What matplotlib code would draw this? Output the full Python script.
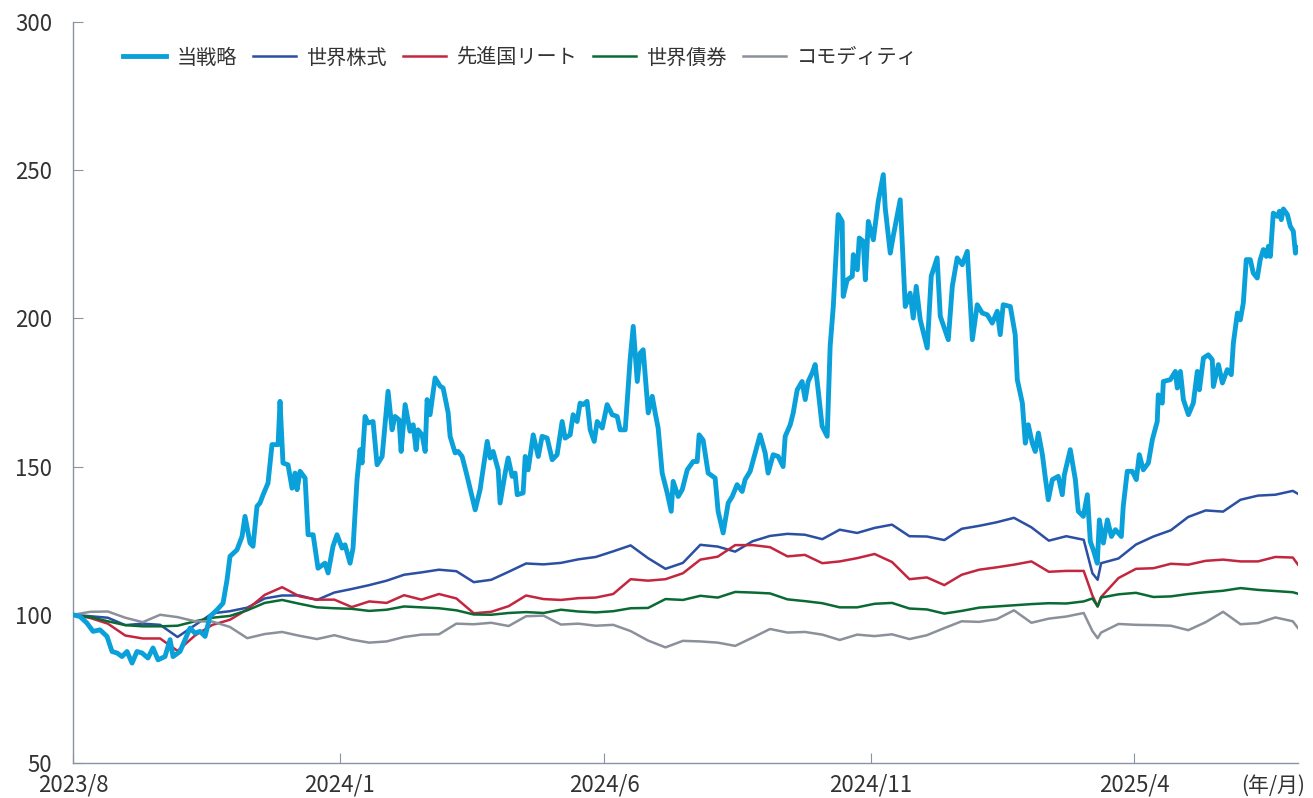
import numpy as np
import pandas as pd
import matplotlib
matplotlib.use("Agg")
import matplotlib.pyplot as plt

plt.rcParams['font.family'] = ['Noto Sans CJK JP', 'DejaVu Sans']

start = pd.Timestamp('2023-08-01')
end_day = 703

# 当戦略 (days since 2023/8/1, index value)
strat_days = [0, 4, 8, 11.5, 15.5, 19.5, 22.4, 25.3, 28.1, 31, 33.9, 36.7, 39.6, 43, 45.9, 48.8,
              52.8, 55.7, 57.4, 61.4, 64.3, 67.2, 70, 72.9, 75.8, 78.6, 82.7, 86.1, 88.4, 90.1,
              94.1, 97, 98.7, 101.6, 103.3, 105.6, 107.3, 109.1, 111.9, 114.2, 117.7, 118.8,
              120.5, 123.4, 125.7, 127.4, 128.6, 130.3, 133.2, 134.9, 137.8, 140.6, 144.6, 146.4,
              149.2, 151.5, 154.4, 156.1, 159, 160.7, 163, 164.7, 165.9, 167.6, 169.3, 172.2,
              174.5, 177.4, 180.8, 183.1, 184.8, 187.1, 188.3, 190.6, 193.4, 195.2, 196.9, 198,
              200.3, 202.1, 203.2, 204.9, 206.1, 207.8, 210.7, 212.4, 215.3, 216.4, 219.3, 221,
              223.3, 226.2, 229, 230.8, 233.6, 237.7, 239.4, 241.1, 244, 245.1, 248, 249.7, 252,
              253.7, 254.9, 258.3, 259.5, 261.2, 264.1, 267, 269.2, 272.1, 275, 277.8, 280.7,
              282.4, 285.3, 287, 289.3, 291, 292.8, 295, 296.8, 299.1, 300.8, 303.7, 306.5, 309.4,
              312.3, 314, 316.9, 319.7, 321.5, 323.8, 325.5, 327.2, 330.1, 332.4, 334.1, 335.8,
              338.1, 341, 343.3, 344.4, 347.3, 349.6, 352.5, 355.9, 358.2, 359.3, 361.6, 364.5,
              368.5, 370.2, 373.1, 376, 378.3, 381.1, 384, 385.7, 388.6, 391.5, 394.3, 397.2,
              398.9, 401.8, 404.7, 407.5, 408.7, 411.6, 413.3, 415.6, 418.4, 420.2, 421.9, 424.2,
              425.9, 427.6, 429.9, 432.8, 434.5, 436.3, 439.1, 441.4, 442, 444.3, 447.2, 447.8,
              450.1, 451.2, 453.5, 454.7, 456.4, 459.3, 462.1, 465, 466.1, 469, 470.7, 474.7,
              477.6, 480.4, 482.2, 483.9, 486.2, 490.2, 492.5, 495.9, 497.7, 502.3, 504.6, 507.4,
              510.3, 513.2, 516.1, 518.9, 521.8, 524.7, 527.5, 530.4, 532.1, 533.8, 537.9, 540.7,
              541.9, 544.8, 546.5, 548.2, 550.5, 552.2, 554, 556.3, 558, 559.7, 562, 565.4, 567.7,
              568.9, 572.3, 575.2, 576.9, 579.8, 582.1, 583.8, 585.5, 587.8, 589, 591.3, 593.6,
              595.9, 598.2, 601.6, 602.7, 605, 607.9, 610.2, 611.9, 614.2, 617.1, 619.4, 622.2,
              622.8, 625.1, 625.7, 629.7, 632.6, 633.7, 635.5, 637.2, 640.1, 642.9, 645.2, 646.4,
              648.7, 651.5, 653.8, 654.4, 657.3, 659.6, 662.4, 664.7, 665.9, 668.2, 669.9, 671.6,
              673.3, 675.6, 677.3, 679.6, 681.3, 683.1, 684.8, 686, 687.1, 688.8, 691.1, 692.3,
              693.4, 694.6, 696.9, 698.6, 700.3, 701.5, 703.2]
strat_vals = [100, 99.4, 97.2, 94.4, 94.9, 92.7, 87.6, 87.1, 85.9, 87.6, 83.7, 87.6, 87.1, 85.4,
              88.8, 84.8, 85.9, 91.6, 85.9, 87.6, 91.6, 95.5, 93.8, 94.4, 92.7, 99.4, 101.7, 103.9,
              111.8, 119.7, 121.9, 126.4, 133.2, 124.2, 123.1, 136.6, 137.7, 140.5, 144.4, 157.4,
              157.4, 172, 151.2, 150.6, 142.7, 147.8, 142.2, 148.4, 146.1, 127, 127, 115.7, 117.4,
              114.1, 123.1, 127, 122.5, 123.6, 117.4, 122.5, 145.6, 155.7, 151.2, 166.9, 164.7,
              165.2, 150.6, 153.4, 175.4, 162.4, 166.9, 165.8, 155.1, 170.9, 161.9, 164.1, 155.7,
              162.4, 160.7, 155.1, 172.6, 167.5, 172.6, 179.9, 177.1, 176.5, 168.1, 160.2, 154.6,
              155.1, 153.4, 146.7, 139.9, 135.4, 142.2, 158.5, 152.9, 155.1, 148.9, 137.7, 147.8,
              152.9, 146.7, 147.8, 140.5, 141.1, 153.4, 148.9, 160.7, 153.4, 160.2, 159.6, 152.3,
              154, 165.2, 159.6, 160.7, 167.5, 165.2, 171.4, 170.9, 172, 162.4, 158.5, 165.2, 163,
              170.9, 167.5, 166.9, 162.4, 162.4, 186, 197.3, 178.7, 188.3, 189.4, 168.1, 173.7,
              168.1, 163, 147.8, 141.1, 134.9, 145, 139.9, 142.2, 148.9, 151.7, 151.7, 160.7,
              158.9, 147.8, 146.1, 134.9, 127.6, 137.7, 139.9, 143.9, 141.6, 145.6, 148.4, 154.6,
              160.7, 154.6, 147.8, 154, 153.4, 150, 160.2, 164.1, 168.1, 175.9, 178.7, 172.6,
              178.7, 181.6, 184.4, 175.9, 163.6, 160.2, 190.6, 204, 235, 232.7, 207.4, 213, 214.2,
              221.5, 216.4, 227.1, 226, 213, 232.7, 226.5, 239.5, 248.5, 237.2, 222, 227.7, 240,
              204, 208.5, 200.1, 210.8, 199.5, 190, 214.2, 220.4, 200.7, 192.8, 210.8, 220.4,
              218.1, 222.6, 192.8, 204.6, 201.8, 201.2, 198.4, 202.4, 194.5, 204.6, 204, 194.5,
              179.3, 171.4, 157.9, 164.1, 157.9, 155.1, 161.3, 154, 146.1, 138.8, 145.6, 146.7,
              140.5, 147.2, 155.7, 145.6, 134.9, 133.2, 140.5, 124.7, 121.9, 117.4, 132, 124.2,
              132, 126.4, 128.7, 126.4, 136.6, 148.4, 148.4, 145.6, 154, 148.9, 151.2, 159.1,
              165.2, 174.2, 171.4, 178.7, 179.3, 182.1, 176.5, 182.1, 172.6, 167.5, 171.4, 182.1,
              175.9, 186.6, 187.7, 186, 177, 184.4, 178.2, 182.7, 181, 191.7, 201.8, 199.5, 205.2,
              219.8, 219.8, 215.3, 213.6, 219.8, 223.2, 220.9, 224.3, 220.9, 235.5, 234.4, 236.1,
              233.3, 236.9, 235, 231, 229.4, 222, 223.7]

# common grid for the other four series
days = list(range(0, 581, 10)) + [585, 588] + list(range(590, 701, 10)) + [703]

stocks = [100, 99.5, 99, 96.5, 97, 96.6, 92.5, 96.5, 100.5, 101.2, 102.4, 105.5, 106.5, 106.5,
          105, 107.5, 108.7, 110, 111.5, 113.5, 114.3, 115.2, 114.7, 111, 111.8, 114.5, 117.3,
          117, 117.5, 118.7, 119.5, 121.4, 123.4, 119.1, 115.5, 117.5, 123.6, 123, 121.3, 124.8,
          126.6, 127.3, 127, 125.5, 128.7, 127.6, 129.3, 130.4, 126.5, 126.4, 125.2, 129, 130,
          131.2, 132.7, 129.5, 125, 126.5, 125.3, 114, 111.8, 117.4, 119, 123.7, 126.4, 128.5,
          133, 135.2, 134.8, 138.8, 140.2, 140.5, 141.8, 140.8]
reit = [100, 98.9, 97, 93, 92, 92, 87.8, 93, 96.6, 98.3, 101.8, 106.7, 109.3, 106.2, 105.1,
        105.1, 102.6, 104.5, 104, 106.6, 105.1, 107, 105.5, 100.5, 101, 102.9, 106.5, 105.3,
        105, 105.6, 105.8, 107, 112, 111.5, 112, 114, 118.6, 119.6, 123.5, 123.5, 122.8, 119.7,
        120.2, 117.4, 118, 119.1, 120.5, 117.8, 112, 112.6, 110, 113.5, 115.2, 116, 116.9, 118,
        114.5, 114.8, 114.8, 106.5, 102.8, 106, 112.4, 115.5, 115.7, 117.2, 116.9, 118.2, 118.6,
        118, 118, 119.5, 119.3, 116.9]
bonds = [100, 99.2, 97.8, 96.5, 96.1, 96.1, 96.3, 97.8, 99, 99.6, 101.5, 104, 105, 103.7, 102.5,
         102.2, 102, 101.3, 101.7, 102.8, 102.5, 102.2, 101.5, 100.1, 100, 100.6, 100.9, 100.6,
         101.7, 101.1, 100.8, 101.2, 102.2, 102.3, 105.3, 105, 106.4, 105.8, 107.7, 107.5, 107.2,
         105.2, 104.6, 103.9, 102.5, 102.5, 103.7, 104, 102.1, 101.8, 100.4, 101.3, 102.4, 102.8,
         103.2, 103.6, 103.9, 103.8, 104.5, 105.5, 102.8, 105.8, 106.9, 107.4, 106, 106.2, 107,
         107.6, 108.1, 109, 108.4, 108, 107.6, 107.1]
commodity = [100, 101, 101.1, 99, 97.5, 100, 99.2, 97.8, 97.7, 95.9, 92.1, 93.5, 94.2, 92.9,
             91.8, 93.1, 91.6, 90.6, 91, 92.5, 93.3, 93.4, 97, 96.8, 97.3, 96.2, 99.5, 99.7, 96.7,
             97, 96.3, 96.6, 94.5, 91.3, 89, 91.2, 91, 90.6, 89.5, 92.3, 95.2, 94, 94.2, 93.3,
             91.5, 93.3, 92.8, 93.4, 91.8, 93.1, 95.5, 97.8, 97.6, 98.5, 101.5, 97.3, 98.7, 99.4,
             100.6, 94.5, 92.1, 94, 96.9, 96.6, 96.5, 96.3, 94.8, 97.5, 101, 96.8, 97.2, 99.1,
             97.8, 95.5]

labels = ['当戦略', '世界株式', '先進国リート', '世界債券', 'コモディティ']
colors = ['#0aa0da', '#2a4fa3', '#c3263f', '#0a6a33', '#8b909b']

tick_dates = ['2023-08-01', '2024-01-01', '2024-06-01', '2024-11-01', '2025-04-01']
tick_labels = ['2023/8', '2024/1', '2024/6', '2024/11', '2025/4']

x_strat = start + pd.to_timedelta(strat_days, unit='D')
x_grid = start + pd.to_timedelta(days, unit='D')

fig = plt.figure(figsize=(13.13, 7.98), dpi=100)
ax = fig.add_axes([0.0556, 0.0439, 0.933, 0.9286])

ax.plot(x_strat, strat_vals, color=colors[0], lw=3.5, label=labels[0], zorder=5)
for vals, lab, c in zip([stocks, reit, bonds, commodity], labels[1:], colors[1:]):
    ax.plot(x_grid, vals, color=c, lw=1.8, label=lab)

ax.set_xlim(start, start + pd.Timedelta(days=end_day))
ax.set_ylim(50, 300)
ax.set_yticks([50, 100, 150, 200, 250, 300])
ax.set_xticks(pd.to_datetime(tick_dates))
ax.set_xticklabels(tick_labels)

spine_c = '#8a93a3'
for s in ['top', 'right']:
    ax.spines[s].set_visible(False)
for s in ['left', 'bottom']:
    ax.spines[s].set_color(spine_c)
    ax.spines[s].set_linewidth(1.0)
ax.tick_params(axis='both', direction='in', length=7, color=spine_c, labelsize=16,
               labelcolor='#333333')
ax.tick_params(axis='y', pad=15)
ax.tick_params(axis='x', pad=7.5)

ax.text(1.006, -0.016, '(年/月)', transform=ax.transAxes, ha='right', va='top',
        fontsize=15, color='#333333')

leg = ax.legend(loc='upper left', bbox_to_anchor=(0.026, 0.99), ncol=5, frameon=False,
                fontsize=14.5, handlelength=2.15, handletextpad=0.5, columnspacing=0.8,
                labelcolor='#333333')

fig.savefig('out.png', dpi=100)
